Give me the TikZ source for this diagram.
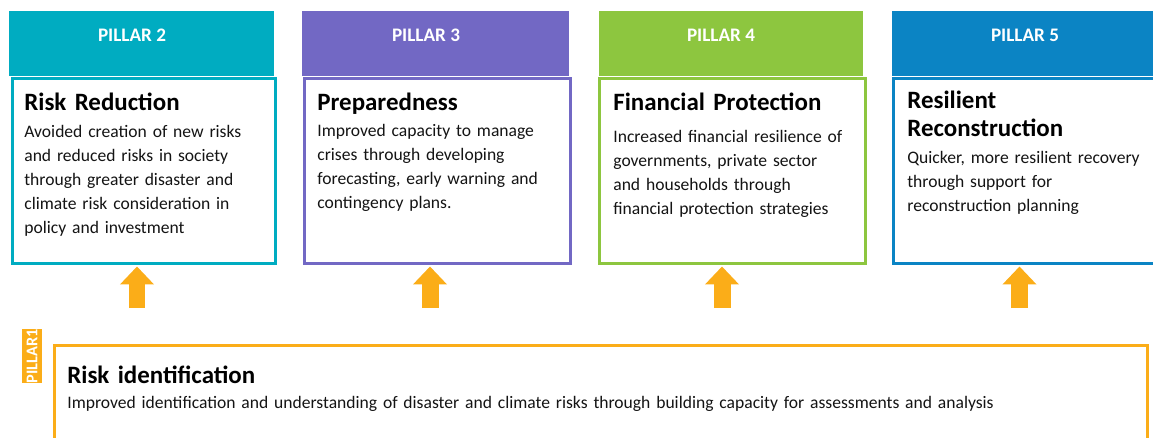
\documentclass[tikz,border=0pt]{standalone}
\usepackage{fontspec}
\setmainfont{Carlito}
\usepackage{tikz}
\usetikzlibrary{arrows.meta}

\definecolor{pillartwo}{RGB}{0,172,193}
\definecolor{pillarthree}{RGB}{114,104,196}
\definecolor{pillarfour}{RGB}{141,198,63}
\definecolor{pillarfive}{RGB}{11,132,196}
\definecolor{pillarone}{RGB}{251,173,24}
\definecolor{bodytext}{RGB}{20,20,20}

\begin{document}
\begin{tikzpicture}
      [x=0.02cm,y=-0.02cm,
       head box/.style={rectangle,fill=#1,inner sep=0pt,minimum height=1.3cm},
       head label/.style={text=white,font=\fontsize{10.9}{12}\selectfont\bfseries},
       pillar box/.style={rectangle,draw=#1,line width=0.06cm,fill=white,inner sep=0pt,minimum height=3.7cm},
       title/.style={anchor=base west,inner sep=0pt,text=black,font=\fontsize{14.2}{16.5}\selectfont\bfseries,
                     text width=5cm,align=left},
       desc/.style={anchor=base west,inner sep=0pt,text=bodytext,font=\fontsize{10}{13.66}\selectfont,
                    text width=5.2cm,align=left},
       up arrow/.style={draw=pillarone,line width=0.34cm,shorten >=0.03cm,
                        -{Triangle[width=0.66cm,length=0.36cm]}}]
        \clip (0,0) rectangle (1153,437);

        % pillar headers
        \node[head box=pillartwo,minimum width=5.3cm] (hdr2) at (141.5,43.5) {};
        \node[head box=pillarthree,minimum width=5.34cm] (hdr3) at (435.5,43.5) {};
        \node[head box=pillarfour,minimum width=5.28cm] (hdr4) at (731,43.5) {};
        \node[head box=pillarfive,minimum width=5.6cm] (hdr5) at (1032,43.5) {};
        \node[head label] (lab2) at (132,35) {PILLAR 2};
        \node[head label] (lab3) at (426,35) {PILLAR 3};
        \node[head label] (lab4) at (721,35) {PILLAR 4};
        \node[head label] (lab5) at (1025,35) {PILLAR 5};

        % pillar boxes
        \node[pillar box=pillartwo,minimum width=5.26cm] (box2) at (144,171) {};
        \node[pillar box=pillarthree,minimum width=5.32cm] (box3) at (437.5,171) {};
        \node[pillar box=pillarfour,minimum width=5.32cm] (box4) at (732.5,171) {};
        \node[pillar box=pillarfive,minimum width=5.6cm] (box5) at (1033.5,171) {};

        \node[title] (t2) at (24,110) {Risk Reduction};
        \node[desc] (d2) at (24,137) {Avoided creation of new risks\\ and reduced risks in society\\
              through greater disaster and\\ climate risk consideration in\\ policy and investment};
        \node[title] (t3) at (317,110) {Preparedness};
        \node[desc] (d3) at (317,136) {Improved capacity to manage\\ crises through developing\\
              forecasting, early warning and\\ contingency plans.};
        \node[title] (t4) at (613,110) {Financial Protection};
        \node[desc] (d4) at (613,142) {Increased financial resilience of\\ governments, private sector\\
              and households through\\ financial protection strategies};
        \node[title] (t5) at (907,108) {Resilient\\ Reconstruction};
        \node[desc] (d5) at (907,163) {Quicker, more resilient recovery\\ through support for\\
              reconstruction planning};

        % pillar 1
        \node[rectangle,draw=pillarone,line width=0.06cm,inner sep=0pt,
              minimum width=21.86cm,minimum height=2.6cm] (box1) at (601,410) {};
        \node[rectangle,fill=pillarone,text=white,rotate=90,inner sep=0pt,
              minimum width=1.04cm,minimum height=0.4cm,font=\fontsize{9.3}{10}\selectfont\bfseries] (tag1) at (32,356) {PILLAR1};
        \node[title,text width=20cm] (t1) at (67,383) {Risk identification};
        \node[desc,text width=21cm] (d1) at (67,408) {Improved identification and understanding of disaster and climate risks through building capacity for assessments and analysis};

        % arrows
        \coordinate (a2) at (137,308);
        \coordinate (a3) at (430,308);
        \coordinate (a4) at (722,308);
        \coordinate (a5) at (1019.5,308);
        \draw[up arrow] (a2) -- (a2 |- box2.south);
        \draw[up arrow] (a3) -- (a3 |- box3.south);
        \draw[up arrow] (a4) -- (a4 |- box4.south);
        \draw[up arrow] (a5) -- (a5 |- box5.south);

      \end{tikzpicture}
\end{document}
